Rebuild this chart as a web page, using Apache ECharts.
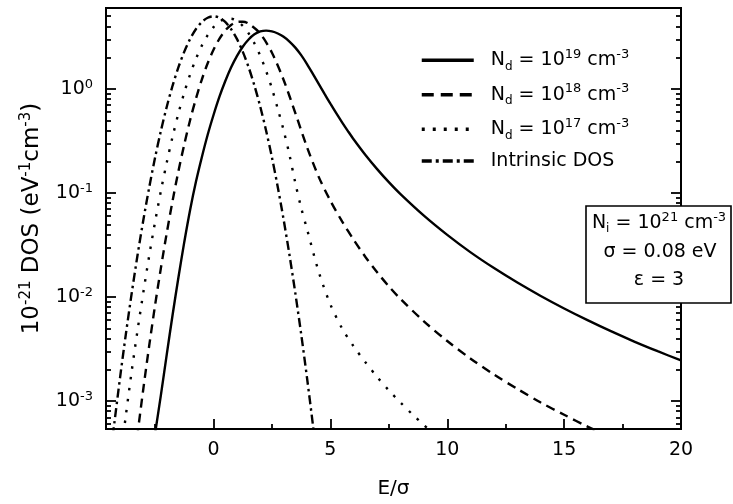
<!DOCTYPE html>
<html><head><meta charset="utf-8">
<script src="https://cdn.jsdelivr.net/npm/echarts@6/dist/echarts.min.js"></script>
<style>html,body{margin:0;padding:0;background:#fff}#c{width:733px;height:504px}</style>
</head><body><div id="c"></div>
<script>
// ---- data ----
const seriesNames = ['Nd19', 'Nd18', 'Nd17', 'Intrinsic DOS'];

const eNd19 = [-2.75,-2.5,-2.25,-2,-1.75,-1.5,-1.25,-1,-0.75,-0.5,-0.25,0,0.25,0.5,0.75,1,1.25,1.5,1.75,2,2.25,2.5,2.75,3,3.25,3.5,3.75,4,4.25,4.5,4.75,5,5.25,5.5,5.75,6,6.5,7,7.5,8,9,10,11,12,13,14,15,16,17,18,19,20];
const dosNd19 = [2.09e-4,4.9e-4,1.15e-3,2.82e-3,6.76e-3,0.0155,0.0339,0.0692,0.129,0.221,0.363,0.562,0.838,1.186,1.607,2.07,2.547,2.99,3.35,3.573,3.64,3.576,3.415,3.17,2.855,2.496,2.115,1.737,1.398,1.119,0.896,0.722,0.585,0.478,0.394,0.327,0.232,0.1697,0.1272,0.0976,0.0606,0.0396,0.0269,0.0190,0.01379,0.01025,0.00777,0.0060,0.0047,0.00374,0.00302,0.00246];

const eNd18 = [-3.5,-3.25,-3,-2.75,-2.5,-2.25,-2,-1.75,-1.5,-1.25,-1,-0.75,-0.5,-0.25,0,0.25,0.5,0.75,1,1.25,1.5,2,2.5,3,3.5,4,4.5,5,5.5,6,6.5,7,7.5,8,9,10,11,12,13,14,15,16,17];
const dosNd18 = [1.67e-4,4.85e-4,1.33e-3,3.43e-3,8.36e-3,0.0191,0.0414,0.0845,0.163,0.294,0.504,0.811,1.233,1.766,2.382,3.034,3.643,4.12,4.40,4.43,4.25,3.40,2.23,1.22,0.587,0.276,0.143,0.0844,0.0534,0.0354,0.0243,0.0173,0.0127,0.0096,0.00585,0.00378,0.00256,0.0018,0.00131,9.7e-4,7.4e-4,5.7e-4,4.5e-4];

const eNd17 = [-4.25,-4,-3.75,-3.5,-3.25,-3,-2.75,-2.5,-2.25,-2,-1.75,-1.5,-1.25,-1,-0.75,-0.5,-0.25,0,0.25,0.5,0.75,1,1.25,1.5,1.75,2,2.25,2.5,2.75,3,3.25,3.5,3.75,4,4.5,5,5.5,6,6.5,7,7.5,8,8.5,9,9.5];
const dosNd17 = [8.9e-5,2.63e-4,7.31e-4,1.95e-3,4.8e-3,0.0112,0.0251,0.0528,0.105,0.197,0.349,0.585,0.925,1.384,1.954,2.61,3.293,3.93,4.42,4.706,4.73,4.50,4.036,3.43,2.746,2.08,1.489,1.01,0.643,0.40,0.232,0.125,0.072,0.045,0.0175,0.0085,0.005,0.00335,0.00236,0.00171,0.00127,9.7e-4,7.5e-4,5.9e-4,4.7e-4];

const eIntrinsic = [-4.6,-4.5,-4.25,-4,-3.75,-3.5,-3.25,-3,-2.75,-2.5,-2.25,-2,-1.75,-1.5,-1.25,-1,-0.75,-0.5,-0.25,0,0.25,0.5,0.75,1,1.25,1.5,1.75,2,2.25,2.5,2.75,3,3.25,3.5,3.75,4,4.25,4.5];
const dosIntrinsic = [1.27e-4,2.0e-4,5.96e-4,1.674e-3,4.41e-3,0.01091,0.02536,0.05543,0.1137,0.2193,0.397,0.6753,1.079,1.62,2.284,3.027,3.766,4.404,4.836,4.99,4.836,4.404,3.766,3.027,2.284,1.62,1.079,0.6753,0.397,0.2193,0.1137,0.05543,0.02536,0.01091,4.41e-3,1.674e-3,5.96e-4,2.0e-4];

const xMin = -4.6, xMax = 20;
const yMin = 5.4e-4, yMax = 6;
const xMajorTicks = [0, 5, 10, 15, 20];
const xMinorTicks = [-2.5, 2.5, 7.5, 12.5, 17.5];
const yMinorTicks = [6e-4,7e-4,8e-4,9e-4,2e-3,3e-3,4e-3,5e-3,6e-3,7e-3,8e-3,9e-3,0.02,0.03,0.04,0.05,0.06,0.07,0.08,0.09,0.2,0.3,0.4,0.5,0.6,0.7,0.8,0.9,2,3,4,5];

// ---- chart ----
const FONT = 'DejaVu Sans';
const zip = (xs, ys) => xs.map((x, i) => [x, ys[i]]);
const chart = echarts.init(document.getElementById('c'), null, {renderer: 'canvas'});

const richBase = {
  t: {fontFamily: FONT, fontSize: 19, lineHeight: 24.5, color: '#000'},
  sup: {fontFamily: FONT, fontSize: 13, lineHeight: 10, verticalAlign: 'top', color: '#000'},
  sub: {fontFamily: FONT, fontSize: 12, lineHeight: 7, verticalAlign: 'bottom', color: '#000'},
  p: {fontFamily: FONT, fontSize: 19, lineHeight: 14, color: '#000'}
};
const legendText = {
  'Nd19': '{t|N}{sub|d}{t| = 10}{sup|19}{t| cm}{sup|-3}',
  'Nd18': '{t|N}{sub|d}{t| = 10}{sup|18}{t| cm}{sup|-3}',
  'Nd17': '{t|N}{sub|d}{t| = 10}{sup|17}{t| cm}{sup|-3}',
  'Intrinsic DOS': '{p|Intrinsic DOS}'
};
const dashes = {
  'Nd19': 'solid',
  'Nd18': [9, 6],
  'Nd17': [2.5, 8.5],
  'Intrinsic DOS': [9, 4, 2.5, 4]
};
const legendDashes = {
  'Nd19': 'solid',
  'Nd18': [12, 7],
  'Nd17': [3, 8],
  'Intrinsic DOS': [10, 4, 3, 4]
};
const dataSets = {
  'Nd19': zip(eNd19, dosNd19),
  'Nd18': zip(eNd18, dosNd18),
  'Nd17': zip(eNd17, dosNd17),
  'Intrinsic DOS': zip(eIntrinsic, dosIntrinsic)
};

function logAxis(extra) {
  return Object.assign({
    type: 'log', logBase: 10, min: yMin, max: yMax, gridIndex: 0,
    splitLine: {show: false},
    axisLine: {show: false, onZero: false},
    axisLabel: {show: false},
    axisTick: {show: false}
  }, extra);
}
function valAxis(extra) {
  return Object.assign({
    type: 'value', min: xMin, max: xMax, gridIndex: 0,
    splitLine: {show: false},
    axisLine: {show: false, onZero: false},
    axisLabel: {show: false},
    axisTick: {show: false}
  }, extra);
}
const tickStyle = {color: '#000', width: 1.8};

const option = {
  backgroundColor: '#fff',
  animation: false,
  grid: {left: 106, right: 52, top: 8, bottom: 72, show: true, borderColor: '#000', borderWidth: 2, containLabel: false},
  xAxis: [
    valAxis({
      position: 'bottom',
      axisLine: {show: true, onZero: false, lineStyle: {color: '#000', width: 2}},
      axisTick: {show: true, inside: true, length: 10, customValues: xMajorTicks, lineStyle: tickStyle},
      axisLabel: {show: true, customValues: xMajorTicks, margin: 12, color: '#000', fontFamily: FONT, fontSize: 19},
      name: 'E/σ', nameLocation: 'middle', nameGap: 50,
      nameTextStyle: {color: '#000', fontFamily: FONT, fontSize: 20}
    }),
    valAxis({
      position: 'bottom',
      axisTick: {show: true, inside: true, length: 5, customValues: xMinorTicks, lineStyle: tickStyle}
    })
  ],
  yAxis: [
    logAxis({
      position: 'left',
      axisLine: {show: true, onZero: false, lineStyle: {color: '#000', width: 2}},
      axisTick: {show: true, inside: true, length: 10, lineStyle: tickStyle},
      axisLabel: {
        show: true, margin: 13,
        formatter: function (v) {
          const p = Math.log10(v), r = Math.round(p);
          if (Math.abs(p - r) > 1e-6) return '';
          return '{b|10}{s|' + r + '}';
        },
        rich: {
          b: {fontFamily: FONT, fontSize: 19, lineHeight: 22, color: '#000'},
          s: {fontFamily: FONT, fontSize: 13, lineHeight: 9, verticalAlign: 'top', color: '#000'}
        }
      },
      name: '{b|10}{s|-21}{b| DOS (eV}{s|-1}{b|cm}{s|-3}{b|)}',
      nameLocation: 'middle', nameRotate: 90, nameGap: 60,
      nameTextStyle: {
        rich: {
          b: {fontFamily: FONT, fontSize: 23, lineHeight: 27, color: '#000'},
          s: {fontFamily: FONT, fontSize: 15, lineHeight: 11, verticalAlign: 'top', color: '#000'}
        }
      }
    }),
    logAxis({
      position: 'left',
      axisTick: {show: true, inside: true, length: 5, customValues: yMinorTicks, lineStyle: tickStyle}
    }),
    logAxis({
      position: 'right',
      axisLine: {show: true, onZero: false, lineStyle: {color: '#000', width: 2}},
      axisTick: {show: true, inside: true, length: 10, lineStyle: tickStyle}
    }),
    logAxis({
      position: 'right',
      axisTick: {show: true, inside: true, length: 5, customValues: yMinorTicks, lineStyle: tickStyle}
    })
  ],
  legend: {
    orient: 'vertical', left: 420, top: 48, padding: 0, itemGap: 10,
    itemWidth: 52, itemHeight: 14, selectedMode: false,
    data: seriesNames.map(n => ({name: n, lineStyle: {type: legendDashes[n], width: 3.5, color: '#000'},
      itemStyle: {opacity: 0, color: 'transparent', borderWidth: 0}})),
    formatter: n => legendText[n],
    textStyle: {padding: [0, 0, 0, 12], rich: richBase},
    itemStyle: {opacity: 0, color: 'transparent', borderWidth: 0},
    lineStyle: {width: 3.5}
  },
  series: seriesNames.map((n, i) => ({
    type: 'line', name: n, xAxisIndex: 0, yAxisIndex: 0,
    data: dataSets[n], symbol: 'none', smooth: 0.3, clip: true,
    lineStyle: {color: '#000', width: 2.4, type: dashes[n]},
    itemStyle: {color: '#000'},
    emphasis: {disabled: true},
    z: 2 + i
  })),
  graphic: [{
    type: 'group', z: 100,
    children: [
      {type: 'rect', shape: {x: 586, y: 206, width: 145, height: 97},
       style: {fill: '#fff', stroke: '#000', lineWidth: 1.6}, z: 100},
      {type: 'text', z: 101, style: {x: 659, y: 223, text: '{t|N}{sub|i}{t| = 10}{sup|21}{t| cm}{sup|-3}',
        rich: richBase, align: 'center', verticalAlign: 'middle', textAlign: 'center', textVerticalAlign: 'middle'}},
      {type: 'text', z: 101, style: {x: 660, y: 252, text: 'σ = 0.08 eV', fill: '#000',
        font: '19px "DejaVu Sans"', fontFamily: FONT, fontSize: 19, align: 'center', verticalAlign: 'middle', textAlign: 'center', textVerticalAlign: 'middle'}},
      {type: 'text', z: 101, style: {x: 659, y: 280, text: 'ε = 3', fill: '#000',
        font: '19px "DejaVu Sans"', fontFamily: FONT, fontSize: 19, align: 'center', verticalAlign: 'middle', textAlign: 'center', textVerticalAlign: 'middle'}}
    ]
  }]
};
chart.setOption(option);
</script>
</body></html>
